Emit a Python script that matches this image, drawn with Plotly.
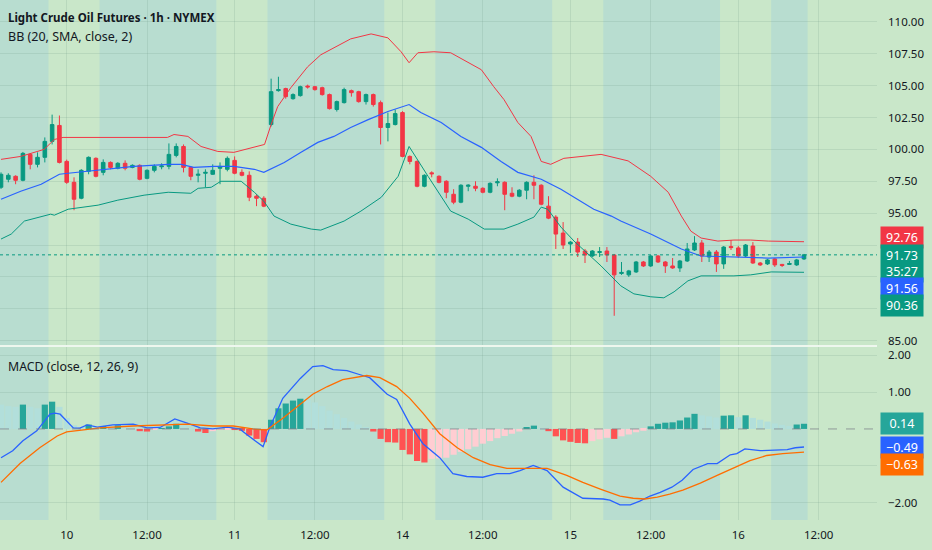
import plotly.graph_objects as go
from plotly.subplots import make_subplots

# 1h bars of Light Crude Oil futures, x = bar number (session gaps collapsed like on the chart)
opens = [97.03, 97.66, 97.89, 97.58, 99.61, 98.83, 99.38, 100.63, 101.88, 99.06,
         97.42, 96.17, 98.28, 99.30, 98.20, 98.98, 98.52, 98.91, 98.59, 98.75,
         97.73, 98.36, 98.64, 98.67, 99.53, 100.23, 98.59, 97.97, 98.13, 98.05,
         98.52, 98.44, 99.14, 98.20, 97.97, 96.33, 96.17, 101.95, 104.61, 104.77,
         103.98, 104.22, 104.97, 104.92, 104.84, 104.30, 103.13, 103.67, 104.61, 104.53,
         103.75, 104.30, 103.67, 101.72, 101.95, 102.89, 99.45, 99.06, 97.11, 98.16,
         97.89, 97.50, 96.48, 95.86, 97.11, 97.11, 96.95, 96.64, 97.38, 97.42,
         96.56, 96.33, 96.80, 97.42, 97.19, 95.55, 94.69, 93.44, 92.58, 92.73,
         92.03, 91.64, 91.92, 92.03, 91.72, 90.27, 90.16, 90.39, 91.17, 90.86,
         91.64, 91.17, 90.86, 90.70, 91.25, 92.11, 92.66, 91.56, 91.95, 91.02,
         92.38, 92.27, 91.64, 92.42, 91.09, 91.02, 91.41, 90.98, 90.98, 90.94,
         91.41]
highs = [98.20, 98.13, 97.97, 99.80, 99.70, 99.77, 100.94, 102.73, 102.66, 99.20,
         97.81, 98.45, 99.45, 99.38, 99.22, 99.06, 99.00, 99.14, 98.83, 98.83,
         98.44, 98.83, 98.91, 100.47, 100.47, 100.39, 98.67, 98.44, 98.44, 98.83,
         98.98, 99.45, 99.45, 98.44, 98.28, 96.48, 96.33, 105.55, 105.70, 104.84,
         104.40, 105.00, 105.08, 104.97, 104.92, 104.38, 103.83, 104.84, 104.69, 104.60,
         104.38, 104.38, 103.83, 102.89, 103.13, 103.00, 99.53, 99.14, 98.05, 98.28,
         97.97, 97.58, 96.88, 97.27, 97.27, 97.50, 97.03, 97.42, 97.73, 97.50,
         97.03, 96.88, 97.50, 97.97, 97.27, 96.33, 94.84, 94.30, 92.81, 93.05,
         92.19, 92.11, 92.34, 92.34, 91.80, 91.17, 90.55, 91.25, 91.25, 91.72,
         91.72, 91.25, 91.48, 91.33, 92.66, 93.20, 92.89, 92.11, 92.11, 92.42,
         92.89, 92.42, 92.58, 92.73, 91.17, 91.41, 91.48, 91.02, 91.25, 91.41,
         91.80]
lows = [96.90, 97.42, 97.27, 97.50, 98.44, 98.59, 98.98, 100.39, 98.90, 97.30,
        95.23, 96.09, 98.05, 97.81, 97.97, 98.44, 98.44, 98.36, 98.52, 97.58,
        97.66, 98.20, 98.44, 98.44, 99.38, 98.20, 97.58, 97.42, 97.03, 98.00,
        97.27, 98.28, 98.05, 97.89, 95.94, 95.55, 95.47, 101.80, 104.53, 103.98,
        103.90, 104.14, 104.77, 104.61, 104.22, 103.13, 102.97, 103.60, 104.14, 103.67,
        103.52, 103.36, 100.39, 100.63, 101.88, 99.38, 98.83, 97.03, 97.03, 97.81,
        97.34, 96.17, 95.70, 95.78, 96.72, 96.72, 96.56, 96.56, 97.11, 95.23,
        96.25, 96.25, 96.09, 96.09, 95.62, 94.53, 92.19, 92.19, 91.88, 91.56,
        91.09, 91.56, 91.56, 91.17, 86.95, 90.16, 90.00, 90.31, 90.78, 90.78,
        91.09, 90.31, 90.63, 90.39, 91.17, 92.03, 91.17, 91.17, 90.39, 90.63,
        92.11, 91.48, 91.56, 91.02, 90.86, 90.94, 90.78, 90.78, 90.94, 90.86,
        91.33]
closes = [98.05, 97.97, 97.58, 99.69, 98.83, 99.38, 100.63, 101.95, 98.98, 97.42,
          96.09, 98.36, 99.38, 97.89, 98.98, 98.59, 98.91, 98.52, 98.75, 97.66,
          98.36, 98.67, 98.70, 99.61, 100.23, 98.59, 97.89, 98.05, 98.20, 98.36,
          98.67, 99.30, 98.13, 97.97, 96.25, 96.17, 95.55, 104.53, 104.69, 104.14,
          104.30, 104.92, 104.90, 104.69, 104.30, 103.20, 103.75, 104.69, 104.45, 103.75,
          104.30, 103.52, 101.72, 102.03, 102.81, 99.45, 99.06, 97.11, 97.97, 98.09,
          97.42, 96.64, 95.86, 97.19, 97.19, 96.95, 96.64, 97.34, 97.46, 96.48,
          96.33, 96.80, 97.42, 97.19, 95.70, 94.61, 93.36, 92.50, 92.73, 91.95,
          91.72, 92.03, 91.98, 91.72, 90.16, 90.35, 90.47, 91.17, 90.86, 91.64,
          91.17, 90.86, 90.70, 91.25, 92.19, 92.66, 91.64, 91.95, 91.02, 92.34,
          92.30, 91.64, 92.50, 91.09, 90.94, 91.33, 90.94, 90.90, 91.05, 91.33,
          91.73]
bars = list(range(len(closes)))

# Bollinger Bands (20, SMA, close, 2) at these bar positions
bb_upper_x = [0, 2.7, 5.9, 7.3, 8.5, 13.7, 20.5, 22.8, 23.7, 25.6, 27.4, 29.7, 31.9, 34.7,
              36.1, 37.0, 37.9, 39.7, 42.0, 43.8, 45.6, 47.9, 50.7, 53.0, 54.8, 55.9, 57.1,
              59.3, 61.6, 64.0, 65.8, 67.5, 68.9, 70.8, 72.6, 74.0, 75.3, 77.1, 79.9, 82.2,
              85.9, 89.0, 91.4, 93.2, 94.5, 95.9, 98.2, 100.4, 102.7, 105.1, 110]
bb_upper = [99.22, 99.45, 100.00, 100.78, 100.94, 100.94, 100.94, 100.94, 101.17, 101.02,
            100.23, 99.84, 99.77, 100.16, 100.39, 101.95, 103.36, 104.84, 106.48, 107.42,
            107.97, 108.67, 109.06, 108.75, 107.66, 106.80, 107.58, 107.66, 107.58, 106.80,
            106.25, 104.92, 103.91, 102.11, 101.02, 99.06, 98.83, 99.30, 99.45, 99.61,
            99.10, 97.89, 96.64, 94.77, 93.59, 93.05, 92.81, 92.89, 92.89, 92.81, 92.76]
bb_mid_x = [0, 2.7, 5.5, 8.0, 9.2, 12.7, 18.2, 22.9, 24.7, 26.4, 29.2, 31.9, 34.7, 36.0,
            38.8, 41.1, 43.4, 45.6, 47.9, 50.3, 53.0, 55.9, 57.5, 60.3, 63.0, 65.8, 68.5,
            70.8, 74.0, 76.7, 79.0, 81.2, 83.6, 84.9, 89.0, 93.2, 95.9, 100.4, 105.1, 110]
bb_mid = [96.09, 96.72, 97.27, 98.05, 98.13, 98.36, 98.67, 98.83, 98.83, 98.59, 98.67,
          98.67, 98.44, 98.20, 98.98, 99.77, 100.55, 101.02, 101.72, 102.34, 102.97,
          103.52, 102.89, 102.11, 101.02, 100.16, 99.06, 98.20, 97.66, 96.88, 96.09,
          95.31, 94.77, 94.38, 93.36, 92.19, 91.64, 91.56, 91.48, 91.56]
bb_low_x = [0, 1.4, 3.2, 5.5, 6.8, 7.3, 9.2, 13.3, 16.0, 19.6, 22.9, 26.0, 27.0, 28.8,
            30.1, 32.9, 34.7, 36.0, 37.4, 39.7, 42.5, 43.8, 47.0, 49.3, 52.1, 54.4, 55.9,
            58.5, 61.6, 64.0, 66.2, 68.9, 70.8, 73.0, 74.0, 74.9, 76.7, 78.5, 80.4, 82.2,
            84.9, 86.7, 89.0, 90.8, 92.2, 94.1, 95.9, 100.4, 102.7, 105.5, 110]
bb_low = [92.97, 93.36, 94.38, 94.69, 94.92, 94.84, 95.31, 95.63, 96.02, 96.41, 96.64,
          96.56, 96.95, 97.03, 97.50, 97.50, 96.64, 95.94, 94.77, 94.14, 93.75, 93.67,
          94.38, 95.16, 96.25, 97.89, 100.23, 97.89, 95.16, 94.53, 93.75, 93.75, 94.14,
          94.69, 95.47, 95.31, 93.91, 92.81, 91.80, 90.86, 89.30, 88.67, 88.44, 88.36,
          88.83, 89.69, 90.08, 90.08, 90.16, 90.39, 90.36]

# MACD (close, 12, 26, 9)
macd_x = [0, 1.6, 3.0, 4.9, 6.7, 7.4, 8.1, 9.0, 9.9, 10.8, 11.8, 13.2, 15.3, 18.1, 20.0,
          21.8, 23.8, 25.5, 27.3, 29.0, 31.0, 32.7, 33.7, 35.9, 36.8, 38.6, 41.0, 42.7,
          44.1, 45.5, 47.4, 49.2, 50.5, 52.9, 54.2, 56.0, 57.8, 60.1, 61.9, 63.8, 66.0,
          67.9, 69.7, 71.1, 72.9, 74.8, 77.0, 79.7, 82.5, 83.4, 84.8, 86.2, 87.5, 88.9,
          90.3, 91.9, 93.3, 94.8, 96.8, 98.1, 99.9, 100.8, 101.9, 104.0, 107.7, 108.8, 110]
macd = [-0.78, -0.59, -0.32, -0.05, 0.40, 0.43, 0.40, 0.21, 0.03, 0.02, 0.11, 0.05, 0.11,
        0.13, 0.03, 0.04, 0.27, 0.16, 0.03, 0.00, 0.05, 0.00, -0.16, -0.48, 0.03, 0.83,
        1.37, 1.69, 1.72, 1.61, 1.58, 1.47, 1.39, 0.94, 0.80, 0.13, -0.40, -0.78, -1.21,
        -1.29, -1.31, -1.21, -1.21, -1.13, -0.99, -1.13, -1.58, -1.88, -1.90, -1.93,
        -2.06, -2.06, -1.96, -1.82, -1.72, -1.58, -1.39, -1.10, -0.94, -0.94, -0.70,
        -0.67, -0.54, -0.59, -0.56, -0.51, -0.49]
signal_x = [0, 2.6, 5.3, 7.7, 9.0, 11.2, 13.6, 18.1, 22.7, 25.5, 29.0, 31.8, 34.5, 36.4,
            38.6, 41.0, 42.7, 44.7, 46.8, 50.1, 51.9, 54.2, 56.0, 57.8, 60.1, 62.5, 64.7,
            67.0, 69.3, 72.1, 74.8, 77.5, 79.7, 82.1, 84.8, 86.6, 88.2, 89.9, 91.6, 93.4,
            95.8, 98.1, 100.3, 102.6, 104.9, 107.1, 110]
signal = [-1.45, -0.94, -0.51, -0.19, -0.08, -0.03, 0.03, 0.08, 0.11, 0.13, 0.08, 0.08,
          0.00, -0.03, 0.29, 0.67, 0.94, 1.15, 1.34, 1.45, 1.39, 1.15, 0.83, 0.43, -0.13,
          -0.51, -0.78, -0.97, -1.07, -1.07, -1.07, -1.26, -1.45, -1.63, -1.82, -1.88,
          -1.90, -1.85, -1.77, -1.66, -1.47, -1.26, -1.07, -0.86, -0.72, -0.67, -0.63]
hist = [0.66, 0.62, 0.60, 0.66, 0.60, 0.56, 0.66, 0.74, 0.60, 0.30,
        0.10, 0.03, 0.12, 0.05, 0.08, 0.05, 0.10, 0.05, 0.01, -0.06,
        -0.07, -0.03, 0.01, 0.07, 0.14, 0.08, 0.02, -0.07, -0.11, -0.06,
        -0.03, -0.01, -0.03, -0.05, -0.18, -0.27, -0.36, 0.25, 0.56, 0.69,
        0.77, 0.82, 0.78, 0.72, 0.62, 0.50, 0.40, 0.30, 0.20, 0.12,
        0.05, -0.07, -0.27, -0.36, -0.37, -0.57, -0.69, -0.87, -0.91, -0.81,
        -0.80, -0.78, -0.70, -0.62, -0.55, -0.48, -0.40, -0.33, -0.25, -0.19,
        -0.13, -0.07, 0.04, 0.09, 0.02, -0.06, -0.20, -0.31, -0.35, -0.38,
        -0.39, -0.33, -0.28, -0.24, -0.27, -0.20, -0.15, -0.09, -0.05, 0.07,
        0.14, 0.17, 0.18, 0.23, 0.31, 0.41, 0.37, 0.34, 0.31, 0.36,
        0.37, 0.32, 0.37, 0.30, 0.25, 0.20, 0.15, 0.11, 0.08, 0.12,
        0.14]

# time axis labels and session shading
tick_pos = [9, 20, 32, 43, 55, 66, 78, 89, 101, 112]
tick_text = ["10", "12:00", "11", "12:00", "14", "12:00", "15", "12:00", "16", "12:00"]
# labels behind the value tags are not shown on the chart
price_ticks = [85.0, 87.5, 90.0, 92.5, 95.0, 97.5, 100.0, 102.5, 105.0, 107.5, 110.0]
price_text = ["85.00", "", "", "", "95.00", "97.50", "100.00", "102.50", "105.00", "107.50", "110.00"]
macd_ticks = [-2, -1, 1, 2]
macd_text = ["\u22122.00", "", "1.00", "2.00"]
band_start = [-0.5, 13.5, 36.5, 59.5, 82.5, 105.5]
band_end = [6.5, 29.5, 52.5, 75.5, 98.5, 110.5]
countdown = "35:27"

UP = "#089981"
DOWN = "#f23645"
BLUE = "#2962ff"
ORANGE = "#ff6d00"
BG = "#c9e7c9"
BAND = "#b8ddd0"
GRID = "rgba(110,150,135,0.18)"
TXT = "#131722"
FONT = "Noto Sans"

def fmt(v):
    return f"{v:.2f}".replace("-", "\u2212")

# histogram colours like TradingView: strong when growing away from zero
hist_colors = []
for k, h in enumerate(hist):
    prev = hist[k - 1] if k > 0 else h + 0.01
    if h >= 0:
        hist_colors.append("#26a69a" if h > prev else "#b2dfdb")
    else:
        hist_colors.append("#ff5252" if h < prev else "#ffcdd2")

split = 174 / 520

fig = make_subplots(rows=2, cols=1, shared_xaxes=True, vertical_spacing=0,
                    row_heights=[1 - split, split])

fig.add_trace(go.Scatter(x=bb_upper_x, y=bb_upper, mode="lines",
                         line=dict(color=DOWN, width=1)), row=1, col=1)
fig.add_trace(go.Scatter(x=bb_mid_x, y=bb_mid, mode="lines",
                         line=dict(color=BLUE, width=1.2)), row=1, col=1)
fig.add_trace(go.Scatter(x=bb_low_x, y=bb_low, mode="lines",
                         line=dict(color=UP, width=1)), row=1, col=1)
fig.add_trace(go.Candlestick(x=bars, open=opens, high=highs, low=lows, close=closes,
                             increasing=dict(line=dict(color=UP, width=1), fillcolor=UP),
                             decreasing=dict(line=dict(color=DOWN, width=1), fillcolor=DOWN)),
              row=1, col=1)

fig.add_trace(go.Bar(x=bars, y=hist, marker=dict(color=hist_colors, line_width=0)),
              row=2, col=1)
fig.add_trace(go.Scatter(x=macd_x, y=macd, mode="lines",
                         line=dict(color=BLUE, width=1.3)), row=2, col=1)
fig.add_trace(go.Scatter(x=signal_x, y=signal, mode="lines",
                         line=dict(color=ORANGE, width=1.3)), row=2, col=1)

# session shading
for s, e in zip(band_start, band_end):
    fig.add_shape(type="rect", xref="x", yref="paper", x0=s, x1=e, y0=0, y1=1,
                  fillcolor=BAND, line_width=0, layer="below")

# last price line, macd zero line, pane separator
fig.add_shape(type="line", xref="paper", yref="y", x0=0, x1=1, y0=closes[-1], y1=closes[-1],
              line=dict(color=UP, width=1, dash="dot"))
fig.add_shape(type="line", xref="paper", yref="y2", x0=0, x1=1, y0=0, y1=0,
              line=dict(color="rgba(120,123,134,0.7)", width=1, dash="dash"))
fig.add_shape(type="line", xref="paper", yref="paper", x0=0, x1=1, y0=split, y1=split,
              line=dict(color="#eef7ee", width=2))

fig.update_layout(
    width=932, height=550,
    margin=dict(l=0, r=55, t=0, b=30),
    paper_bgcolor=BG, plot_bgcolor=BG,
    showlegend=False, hovermode=False,
    bargap=0.15,
    font=dict(family=FONT, size=11.5, color=TXT),
)
fig.update_xaxes(range=[-0.14, 120.0], tickvals=tick_pos, ticktext=tick_text,
                 showgrid=True, gridcolor=GRID, zeroline=False, showline=False,
                 rangeslider_visible=False, ticks="", ticklabelstandoff=6)
fig.update_xaxes(showticklabels=False, row=1, col=1)
fig.update_yaxes(side="right", showgrid=True, gridcolor=GRID, zeroline=False,
                 showline=False, ticks="", ticklabelstandoff=10)
fig.update_yaxes(range=[84.58, 111.72], tickvals=price_ticks, ticktext=price_text, row=1, col=1)
fig.update_yaxes(range=[-2.47, 2.25], tickvals=macd_ticks, ticktext=macd_text, row=2, col=1)

# legends in the top-left corners
fig.add_annotation(text="<b>Light Crude Oil Futures \u00b7 1h \u00b7 NYMEX</b>", xref="paper", yref="paper",
                   x=0, y=1, xanchor="left", yanchor="top", xshift=6, yshift=-8,
                   showarrow=False, font=dict(size=11.5, color=TXT))
fig.add_annotation(text="BB (20, SMA, close, 2)", xref="paper", yref="paper",
                   x=0, y=1, xanchor="left", yanchor="top", xshift=6, yshift=-26,
                   showarrow=False, font=dict(size=12.5, color=TXT))
fig.add_annotation(text="MACD (close, 12, 26, 9)", xref="paper", yref="paper",
                   x=0, y=split, xanchor="left", yanchor="top", xshift=6, yshift=-10,
                   showarrow=False, font=dict(size=12.3, color=TXT))

# value tags on the price scale
tags = [
    ("y", bb_upper[-1], fmt(bb_upper[-1]), DOWN, 4),
    ("y", closes[-1], fmt(closes[-1]) + "<br>" + countdown, UP, -9),
    ("y", bb_mid[-1], fmt(bb_mid[-1]), BLUE, -31),
    ("y", bb_low[-1], fmt(bb_low[-1]), UP, -33),
    ("y2", hist[-1], fmt(hist[-1]), "#26a69a", 0),
    ("y2", macd[-1], fmt(macd[-1]), BLUE, 0),
    ("y2", signal[-1], fmt(signal[-1]), ORANGE, -12),
]
for yref, val, label, col, shift in tags:
    fig.add_annotation(text=label, xref="paper", yref=yref, x=1, y=val,
                       xanchor="left", yanchor="middle", xshift=3, yshift=shift,
                       showarrow=False, bgcolor=col, borderpad=2, width=38, align="center",
                       font=dict(size=12.5, color="white"))

fig.write_html("out.html", config={"displayModeBar": False},
               post_script="document.body.style.margin='0';")
